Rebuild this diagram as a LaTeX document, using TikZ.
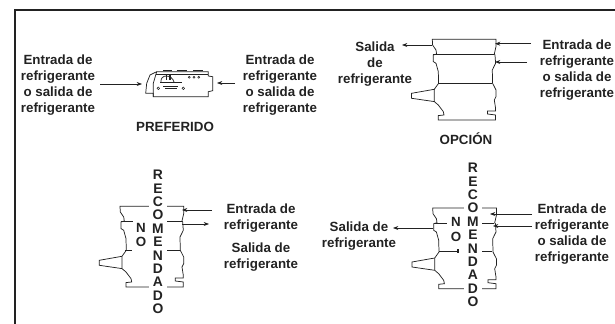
\documentclass[tikz,border=0pt]{standalone}
\usepackage{fontspec}
\setmainfont{Liberation Sans}
\usetikzlibrary{arrows.meta}
\definecolor{tinta}{HTML}{222222}
\tikzset{
    etiqueta/.style={align=center, text=tinta, inner sep=0pt, font=\fontsize{10}{12}\selectfont\bfseries},
    letra/.style={text=tinta, fill=white, inner sep=0pt, minimum width=13.5pt, minimum height=10.05pt, font=\fontsize{10.4}{10}\selectfont\bfseries},
    linea/.style={draw=tinta, line width=0.55pt},
    flecha/.style={draw=tinta, line width=0.5pt, -{Stealth[length=4pt,width=3pt]}},
    pics/cuerpo/.style={code={
        \draw [linea] (0,0) -- (0.3,5.7) -- (3.7,10.7) -- (4.3,14.7) -- (1,15.7) -- (1,22.3) -- (3.7,24) -- (6,32.3) -- (6.3,44) -- (2,50) -- (2,62.3) -- (6,65.7) -- (11,72.3) -- (11.7,75.7) -- (6,76.3) -- (6,80.7)
            -- (63.3,80.7) -- (63.3,75.7) -- (55.3,74.7) -- (55.3,71.7) -- (63.3,71.7) -- (63.3,69) -- (62,60.7) -- (63.7,57.3) -- (63.7,50.7) -- (60.3,44) -- (60,30.7) -- (63.3,24) -- (62.7,15.7) -- (62,14.7) -- (63.7,7.3) -- (63.7,0) -- cycle;
        \draw [linea] (2,50) -- (-20.7,54) -- (-20.7,59) -- (2,62.3);
    }}
}
\begin{document}
\begin{tikzpicture}[x=0.75pt,y=-0.75pt]
    \useasboundingbox (0,0) rectangle (615,324);
    %marco
    \draw [tinta, line width=2.1pt] (15,324) -- (15,10) -- (615,10);
    %
    %preferido
    \draw [linea] (156.7,71.7) -- (208.3,71.7) -- (208.3,76) -- (212.7,76.7) -- (212.7,90.7) -- (208.3,91.7) -- (208.3,96.7) -- (153.3,96.7) -- (153.3,93.3) -- (145.7,93.3) -- (146.7,83.3) -- (150,75) -- cycle;
    \draw [linea] (156.7,71.7) -- (153.3,83.3) -- (153.3,96.7);
    \draw [linea] (155.5,74) -- (208.3,74);
    \foreach \a/\b in {163.3/171.7, 176.7/186.7, 193.3/203.3} {
        \draw [tinta, line width=1pt] (\a,70.3) -- (\b,70.3);
    }
    \draw [linea] (161,82) .. controls (160,74) and (172,74) .. (174,82);
    \draw [tinta, line width=1pt] (166.7,74) -- (166.7,80);
    \draw [tinta, line width=1pt] (170,74) -- (170,80);
    \draw [tinta, line width=1pt] (160,82.7) -- (181.7,82.7);
    \draw [linea] (163.3,86) -- (178.3,86);
    \draw [linea] (165,88.7) -- (176.7,88.7);
    \foreach \x in {158.3, 183.3} {
        \draw [tinta, line width=0.4pt] (\x,88.3) circle (1.3);
    }
    \foreach \x in {189.3, 194, 198.7} {
        \draw [tinta, line width=0.4pt] (\x,77.3) circle (1);
    }
    \node [etiqueta] (pizq) at (58,85) {Entrada de\\refrigerante\\o salida de\\refrigerante};
    \node [etiqueta] (pder) at (280,85) {Entrada de\\refrigerante\\o salida de\\refrigerante};
    \node [etiqueta] (ptit) at (175,127) {PREFERIDO};
    \coordinate (pa1) at (100,84);
    \coordinate (pb1) at (142,84);
    \coordinate (pa2) at (235,83);
    \coordinate (pb2) at (217,83);
    \draw [flecha] (pa1) -- (pb1);
    \draw [flecha] (pa2) -- (pb2);
    %
    %opcion
    \pic at (432.3,39.3) {cuerpo};
    \draw [linea] (433,54) -- (494,54);
    \draw [linea] (438,83) -- (492,83);
    \node [etiqueta] (osal) at (375,64) {Salida\\de\\refrigerante};
    \node [etiqueta] (oent) at (577,70) {Entrada de\\refrigerante\\o salida de\\refrigerante};
    \node [etiqueta] (otit) at (466,139) {OPCIÓN};
    \coordinate (oa1) at (432,45);
    \coordinate (ob1) at (402,45);
    \coordinate (oa2) at (531,43.7);
    \coordinate (ob2) at (495,43.7);
    \coordinate (oa3) at (527,62);
    \coordinate (ob3) at (495,62);
    \draw [flecha] (oa1) -- (ob1);
    \draw [flecha] (oa2) -- (ob2);
    \draw [flecha] (oa3) -- (ob3);
    %
    %no recomendado, izquierda
    \pic at (120,206.3) {cuerpo};
    \draw [linea] (121,221.5) -- (132.7,221.5);
    \draw [linea] (158,221.5) -- (182,221.5);
    \draw [linea] (125,250.3) -- (132,250.3);
    \draw [linea] (158,250.3) -- (180,250.3);
    \foreach \l [count=\i] in {R,E,C,O,M,E,N,D,A,D,O} {
        \node [letra] (ilet\i) at (158,161.6+13.4*\i) {\l};
    }
    \node [etiqueta] (in) at (141,228) {N};
    \node [etiqueta] (io) at (141,242) {O};
    \node [etiqueta] (ient) at (261,218) {Entrada de\\refrigerante};
    \node [etiqueta] (isal) at (261,257) {Salida de\\refrigerante};
    \coordinate (ia1) at (212,210);
    \coordinate (ib1) at (182,210);
    \coordinate (ia2) at (182,224);
    \coordinate (ib2) at (209,224);
    \draw [flecha] (ia1) -- (ib1);
    \draw [flecha] (ia2) -- (ib2);
    %
    %no recomendado, derecha
    \pic at (432.7,208) {cuerpo};
    \draw [linea] (433.5,223) -- (447,223);
    \draw [linea] (473,223) -- (494,223);
    \draw [linea] (439,251.5) -- (458,251.5);
    \draw [linea] (473,251.5) -- (492,251.5);
    \draw [tinta, line width=1.2pt] (458,249.5) -- (458,253.5);
    \foreach \l [count=\i] in {R,E,C,O,M,E,N,D,A,D,O} {
        \node [letra] (dlet\i) at (473,154.6+13.4*\i) {\l};
    }
    \node [etiqueta] (dn) at (456,222) {N};
    \node [etiqueta] (do) at (456,237) {O};
    \node [etiqueta] (dsal) at (359,236.5) {Salida de\\refrigerante};
    \node [etiqueta] (dent) at (572,234) {Entrada de\\refrigerante\\o salida de\\refrigerante};
    \coordinate (da1) at (433,228);
    \coordinate (db1) at (393,228);
    \coordinate (da2) at (532,214);
    \coordinate (db2) at (490,214);
    \coordinate (da3) at (532,226);
    \coordinate (db3) at (493,226);
    \draw [flecha] (da1) -- (db1);
    \draw [flecha] (da2) -- (db2);
    \draw [flecha] (da3) -- (db3);
    %
\end{tikzpicture}
\end{document}
